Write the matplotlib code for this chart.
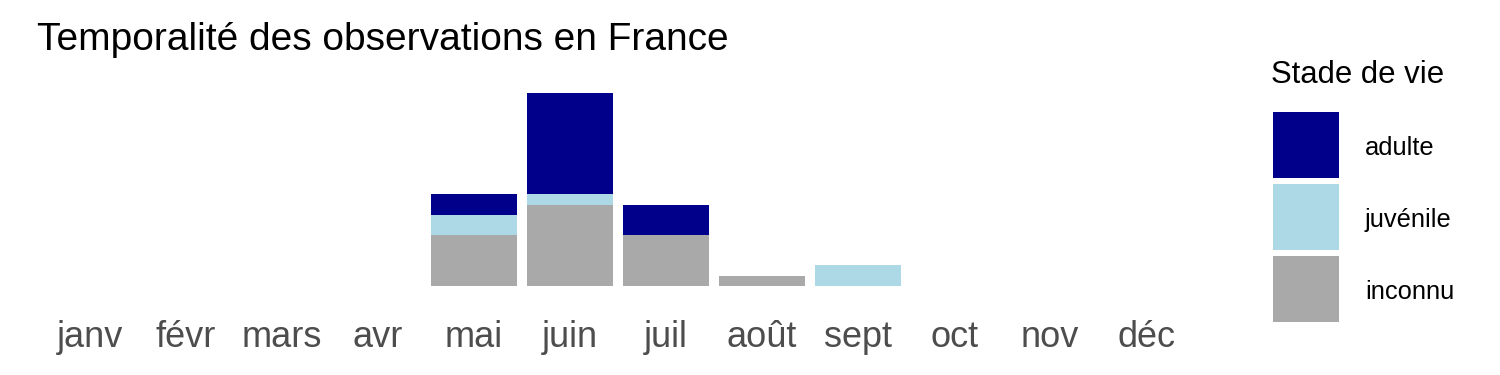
import numpy as np
import matplotlib.pyplot as plt
from matplotlib.patches import Rectangle

plt.rcParams['font.family'] = ['Liberation Sans', 'DejaVu Sans']

# month labels and counts per life stage
months = ["janv", "févr", "mars", "avr", "mai", "juin",
          "juil", "août", "sept", "oct", "nov", "déc"]
inconnu = [0, 0, 0, 0, 5, 8, 5, 1, 0, 0, 0, 0]
juvenile = [0, 0, 0, 0, 2, 1, 0, 0, 2, 0, 0, 0]
adulte = [0, 0, 0, 0, 2, 10, 3, 0, 0, 0, 0, 0]

stages = ["adulte", "juvénile", "inconnu"]
colors = {"adulte": "#00008B", "juvénile": "#ADD8E6", "inconnu": "#A9A9A9"}

W, H = 1500, 375
fig = plt.figure(figsize=(W / 100, H / 100), dpi=100)
ax = fig.add_axes([0.0216, 0.2125, 0.781, 0.565])

x = np.arange(len(months))
inc = np.array(inconnu)
juv = np.array(juvenile)
adu = np.array(adulte)

ax.bar(x, inc, width=0.9, color=colors["inconnu"], linewidth=0)
ax.bar(x, juv, width=0.9, bottom=inc, color=colors["juvénile"], linewidth=0)
ax.bar(x, adu, width=0.9, bottom=inc + juv, color=colors["adulte"], linewidth=0)

ax.set_xlim(-0.6, len(months) - 0.4)
ax.set_ylim(-0.95, 19.95)
ax.set_xticks(x)
ax.set_xticklabels(months, fontsize=26, color="#4D4D4D")
ax.tick_params(axis="x", length=0, pad=18)
ax.set_yticks([])
for s in ax.spines.values():
    s.set_visible(False)

fig.text(0.0247, 1 - 50 / H, "Temporalité des observations en France",
         fontsize=28, color="black", va="baseline", ha="left")

# legend drawn by hand (ggplot-like square keys)
fig.text(1271 / W, 1 - 83 / H, "Stade de vie", fontsize=22.4,
         va="baseline", ha="left")
key_top, key_size, key_gap = 112, 66, 6
for i, s in enumerate(stages):
    top = key_top + i * (key_size + key_gap)
    fig.patches.append(Rectangle((1273 / W, 1 - (top + key_size) / H),
                                 key_size / W, key_size / H,
                                 transform=fig.transFigure,
                                 facecolor=colors[s], edgecolor="none"))
    fig.text(1365 / W, 1 - (top + 43) / H, s, fontsize=18.4,
             va="baseline", ha="left")

fig.savefig("out.png", dpi=100, facecolor="white")
